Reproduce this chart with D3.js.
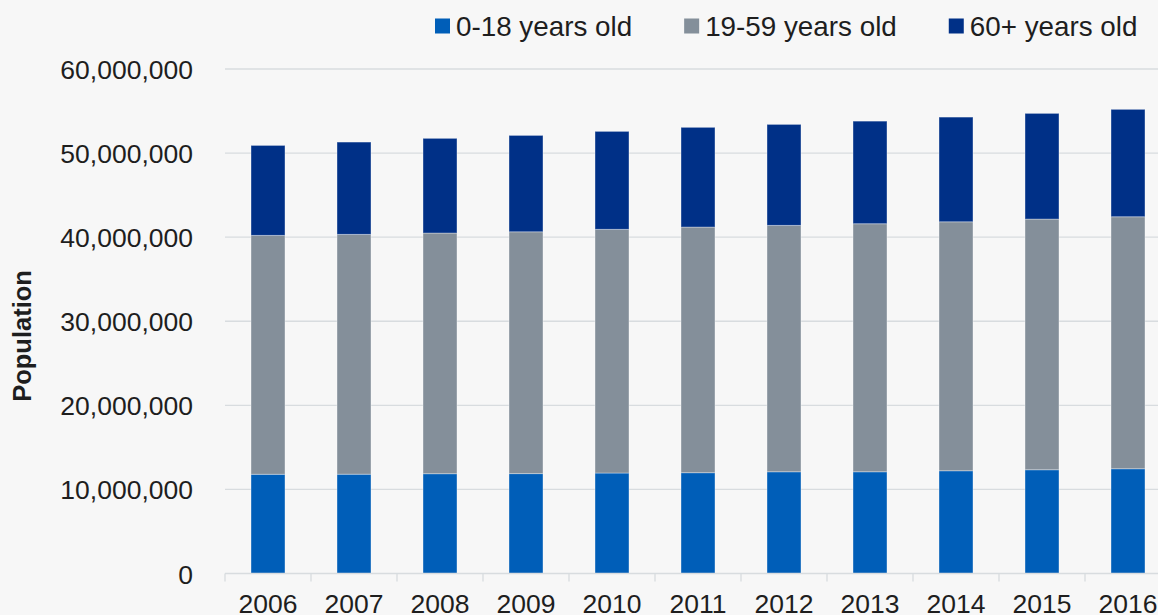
<!DOCTYPE html>
<html>
<head>
<meta charset="utf-8">
<script src="https://cdn.jsdelivr.net/npm/d3@7"></script>
<style>
  html, body { margin: 0; padding: 0; background: #f7f7f7; overflow: hidden; }
  svg { display: block; font-family: "Liberation Sans", Arial, sans-serif; }
</style>
</head>
<body>
<svg id="chart" width="1158" height="615"></svg>
<script>
// Population by age band, 2006–2016
const years = ["2006","2007","2008","2009","2010","2011","2012","2013","2014","2015","2016"];
const age0to18 = [11800000, 11810000, 11870000, 11880000, 11950000, 11990000, 12100000, 12100000, 12220000, 12340000, 12460000];
const age19to59 = [28410000, 28520000, 28620000, 28760000, 28980000, 29210000, 29300000, 29500000, 29610000, 29810000, 29970000];
const age60plus = [10700000, 10980000, 11260000, 11460000, 11650000, 11860000, 12010000, 12200000, 12450000, 12570000, 12770000];
const seriesNames = ["0-18 years old", "19-59 years old", "60+ years old"];
const seriesColors = ["#005eb8", "#848f9a", "#003087"];
const yTicks = [0, 10000000, 20000000, 30000000, 40000000, 50000000, 60000000];

const svg = d3.select("#chart");
const W = 1158, H = 615;
svg.append("rect").attr("width", W).attr("height", H).attr("fill", "#f7f7f7");

const plotLeft = 225, step = 86;
const x = d3.scaleBand()
  .domain(years)
  .range([plotLeft, plotLeft + step * years.length])
  .paddingInner(0.605)
  .paddingOuter(0.3025);

const y = d3.scaleLinear().domain([0, 60000000]).range([573.5, 69]);

const table = years.map((yr, i) => ({
  year: yr,
  a: age0to18[i],
  b: age19to59[i],
  c: age60plus[i]
}));
const stack = d3.stack().keys(["a", "b", "c"])(table);

// gridlines
svg.append("g")
  .selectAll("line")
  .data(yTicks.slice(1))
  .join("line")
  .attr("x1", plotLeft).attr("x2", W)
  .attr("y1", d => y(d)).attr("y2", d => y(d))
  .attr("stroke", "#d8dcdf").attr("stroke-width", 1.3);

// y axis labels
const yAxis = d3.axisLeft(y).tickValues(yTicks).tickSize(0).tickPadding(0)
  .tickFormat(d3.format(","));
const gy = svg.append("g").attr("transform", "translate(193,0)").call(yAxis);
gy.select(".domain").remove();
gy.selectAll("text")
  .attr("font-size", "26.5px")
  .attr("fill", "#1e1e1e")
  .attr("font-family", "Liberation Sans, Arial, sans-serif")
  .attr("dy", "0.36em");

// bars
svg.append("g")
  .selectAll("g")
  .data(stack)
  .join("g")
  .attr("fill", (d, i) => seriesColors[i])
  .selectAll("rect")
  .data(d => d)
  .join("rect")
  .attr("x", d => x(d.data.year))
  .attr("width", x.bandwidth())
  .attr("y", d => y(d[1]))
  .attr("height", d => y(d[0]) - y(d[1]))
  .attr("stroke", "rgba(255,255,255,0.35)")
  .attr("stroke-width", 1);

// x axis
const xAxis = d3.axisBottom(x).tickSize(0).tickPadding(0);
const gx = svg.append("g").attr("transform", `translate(0,${y(0)})`).call(xAxis);
gx.select(".domain").remove();
gx.selectAll("text")
  .attr("font-size", "26.5px")
  .attr("fill", "#1e1e1e")
  .attr("font-family", "Liberation Sans, Arial, sans-serif")
  .attr("y", 39.5)
  .attr("dy", 0);

svg.append("line")
  .attr("x1", plotLeft).attr("x2", W)
  .attr("y1", y(0)).attr("y2", y(0))
  .attr("stroke", "#d8dcdf").attr("stroke-width", 1.3);

const boundaries = d3.range(years.length + 1).map(i => plotLeft + i * x.step());
svg.append("g")
  .selectAll("line")
  .data(boundaries)
  .join("line")
  .attr("x1", d => d).attr("x2", d => d)
  .attr("y1", y(0)).attr("y2", y(0) + 8)
  .attr("stroke", "#d8dcdf").attr("stroke-width", 1.3);

// y axis title
svg.append("text")
  .attr("transform", "translate(31,336) rotate(-90)")
  .attr("text-anchor", "middle")
  .attr("font-size", "25.5px")
  .attr("font-weight", "bold")
  .attr("fill", "#1e1e1e")
  .text("Population");

// legend
const legend = svg.append("g");
let lx = 435;
seriesNames.forEach((name, i) => {
  legend.append("rect")
    .attr("x", lx).attr("y", 18.5)
    .attr("width", 15).attr("height", 15)
    .attr("fill", seriesColors[i]);
  const t = legend.append("text")
    .attr("x", lx + 21).attr("y", 35.5)
    .attr("font-size", "27.8px")
    .attr("fill", "#1e1e1e")
    .text(name);
  lx += 21 + t.node().getComputedTextLength() + 52;
});
</script>
</body>
</html>
